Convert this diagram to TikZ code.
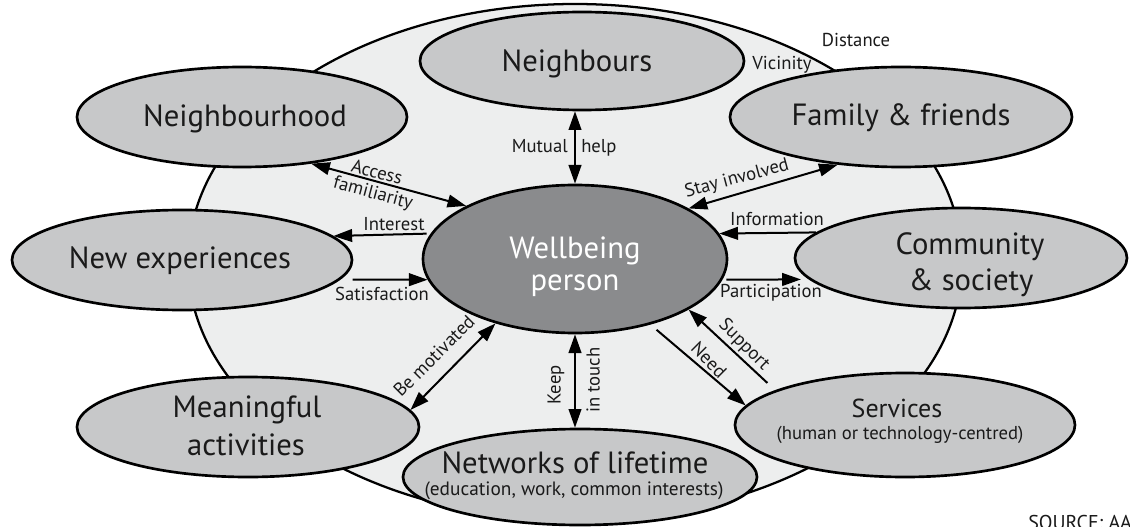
\documentclass[tikz,border=0pt]{standalone}
\usepackage{fontspec}
\setmainfont{PT Sans}
\usetikzlibrary{shapes.geometric,arrows.meta}
\definecolor{bgfill}{HTML}{EDEEEE}
\definecolor{nodefill}{HTML}{C7C8C9}
\definecolor{wellfill}{HTML}{8A8B8D}
\definecolor{txt}{HTML}{1A1A1A}
\begin{document}
\begin{tikzpicture}[x=0.75pt,y=-0.75pt,
  ov/.style 2 args={ellipse, draw=black, line width=2pt, fill=nodefill, inner sep=0pt,
    minimum width=#1*1.5pt, minimum height=#2*1.5pt},
  bigov/.style={ellipse, draw=black, line width=1.7pt, fill=bgfill, inner sep=0pt,
    minimum width=387*1.5pt, minimum height=258*1.5pt},
  ttl/.style={font=\fontsize{23}{27}\selectfont, text=txt, inner sep=0pt, anchor=base},
  sub/.style={font=\fontsize{14.5}{17}\selectfont, text=txt, inner sep=0pt, anchor=base},
  lbl/.style={font=\fontsize{14}{16}\selectfont, text=txt, inner sep=0pt},
  tip/.tip={Triangle[length=14pt,width=9.5pt]},
  arr/.style={line width=1.5pt, -tip},
  darr/.style={line width=1.5pt, tip-tip}]
\useasboundingbox (0,0) rectangle (1130,527);
\fill[white] (0,0) rectangle (1130,527);

% background ellipse
\node[bigov] (bg) at (575,262) {};

% outer nodes
\node[ov={162}{49}] (nbrs) at (582,61) {};
\node[ov={165}{50}] (nhood) at (242,117) {};
\node[ov={171}{50}] (fam) at (901,117) {};
\node[ov={170}{50}] (newexp) at (182,260) {};
\node[ov={166}{50}] (comm) at (961,258) {};
\node[ov={171}{50}] (mean) at (248,427) {};
\node[ov={177}{48}] (netw) at (580,477) {};
\node[ov={170}{52}] (serv) at (905,425) {};
\node[ov={152}{74}, fill=wellfill] (well) at (575,259) {};

% node texts
\node[ttl] (nbrsT) at (577,72) {Neighbours};
\node[ttl] (nhoodT) at (245,127) {Neighbourhood};
\node[ttl] (famT) at (901,126) {Family \& friends};
\node[ttl] (newexpT) at (180,268) {New experiences};
\node[ttl] (commA) at (970,254) {Community};
\node[ttl] (commB) at (971,290) {\& society};
\node[ttl, text=white] (wellA) at (575,258) {Wellbeing};
\node[ttl, text=white] (wellB) at (575,290) {person};
\node[ttl] (meanA) at (247,417) {Meaningful};
\node[ttl] (meanB) at (246,455) {activities};
\node[ttl] (netwA) at (575,473) {Networks of lifetime};
\node[sub] (netwB) at (574,495) {(education, work, common interests)};
\node[ttl, font=\fontsize{19.5}{22}\selectfont] (servA) at (897,417) {Services};
\node[sub, font=\fontsize{14}{16}\selectfont] (servB) at (900,439) {(human or technology-centred)};

% connectors
\draw[darr] (well.north) -- (well.north |- nbrs.south);
\draw[darr] (nhood.-34.06) -- (well.154.3);
\draw[arr, shorten <=3pt] (well.170.96) -- (newexp.9.14);
\draw[arr, shorten <=9pt] (newexp.-7.31) -- (well.188.19);
\draw[darr] (well.24.9) -- (fam.-143.6);
\draw[arr] (comm.170.14) -- (well.10.35);
\draw[arr, shorten <=3pt, shorten >=6pt] (well.-8.19) -- (comm.188.39);
\draw[darr] (well.219.7) -- (mean.6.91);
\draw[darr] (well.south) -- (well.south |- netw.north);
\draw[arr, shorten <=6pt] (well.-41.9) -- (serv.173.96);
\draw[arr, shorten <=8pt] (serv.165.2) -- (well.-24.78);

% connector labels
\node[lbl, anchor=base east] (lMutual) at (568,153) {Mutual};
\node[lbl, anchor=base west] (lHelp) at (581,153) {help};
\node[lbl, rotate=-15] (lAccess) at (377,172) {Access};
\node[lbl, rotate=-15] (lFamil) at (373,194) {familiarity};
\node[lbl, anchor=base] (lInterest) at (394,230) {Interest};
\node[lbl, anchor=base] (lSat) at (382,300) {Satisfaction};
\node[lbl, rotate=15] (lStay) at (737,179) {Stay involved};
\node[lbl, anchor=base] (lInfo) at (777,225) {Information};
\node[lbl, anchor=base] (lPart) at (771,297) {Participation};
\node[lbl, rotate=45] (lMot) at (434,356) {Be motivated};
\node[lbl, rotate=90] (lKeep) at (556,385) {Keep};
\node[lbl, rotate=90] (lTouch) at (593,380) {in touch};
\node[lbl, rotate=-45] (lNeed) at (709,360) {Need};
\node[lbl, rotate=-45] (lSupp) at (744,345) {Support};
\node[lbl, anchor=base] (lVic) at (782,70) {Vicinity};
\node[lbl, anchor=base] (lDist) at (856,47) {Distance};
\node[lbl, anchor=base west, font=\fontsize{15}{17}\selectfont] (src) at (1028,529) {SOURCE: AAL};
\end{tikzpicture}
\end{document}
